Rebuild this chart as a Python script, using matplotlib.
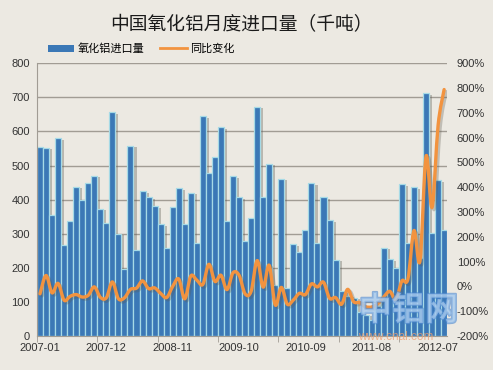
import numpy as np
import matplotlib
matplotlib.use('Agg')
import matplotlib.pyplot as plt
import matplotlib.patheffects as pe
from matplotlib.path import Path
from matplotlib.patches import PathPatch, Patch
from matplotlib.lines import Line2D

plt.rcParams['font.family'] = ['Liberation Sans', 'Noto Sans CJK SC', 'DejaVu Sans']

# monthly alumina imports (kt), 2007-01 .. 2012-08
imports = [553, 552, 354, 581, 266, 338, 438, 400, 448, 470, 373, 330,
           657, 300, 197, 558, 251, 424, 408, 380, 327, 258, 378, 434,
           327, 420, 273, 645, 478, 524, 613, 336, 468, 408, 278, 346,
           673, 409, 505, 149, 461, 140, 270, 245, 310, 449, 272, 408,
           340, 224, 132, 118, 112, 70, 62, 48, 88, 259, 225, 199,
           445, 274, 437, 230, 713, 302, 458, 312]

# year-on-year change (%)
yoy = [-30, 44, -26, 12, -56, -40, -33, -43, -36, -2, -44, -46,
       18, -50, -46, -12, -7, 22, -9, -6, -28, -45, 0, 30,
       -50, 42, 25, 8, 89, 20, 45, -13, 55, 45, -30, -20,
       104, -3, 85, -75, -4, -72, -55, -28, -33, 10, -2, 17,
       -48, -45, -72, -12, -62, -65, -82, -83, -70, -42, -20, -53,
       22, 30, 225, 103, 525, 319, 650, 794]

tick_pos = [0, 11, 22, 33, 44, 55, 66]
tick_labels = ['2007-01', '2007-12', '2008-11', '2009-10', '2010-09', '2011-08', '2012-07']

title = '中国氧化铝月度进口量（千吨）'
bar_name = '氧化铝进口量'
line_name = '同比变化'

bg = '#ECE9E2'
blue = '#3B78B6'
edge = '#A6DAE6'
orange = '#F2933F'
grid_c = '#A19C94'
txt_c = '#333333'

fig = plt.figure(figsize=(4.93, 3.70), dpi=100, facecolor=bg)
ax = fig.add_axes([0.075, 0.092, 0.832, 0.737])
ax.set_facecolor(bg)

x = np.arange(len(imports))
ax.bar(x, imports, width=1.0, color=blue, edgecolor=edge, linewidth=0.9, zorder=2,
       path_effects=[pe.SimplePatchShadow(offset=(2.2, -1.2), shadow_rgbFace='#5c5a50', alpha=0.35),
                     pe.Normal()])

ax.set_xlim(-0.5, len(imports) - 0.5)
ax.set_ylim(0, 800)
ax.set_yticks(range(0, 801, 100))
ax.yaxis.grid(True, color=grid_c, linewidth=1.0, zorder=0)
ax.set_axisbelow(True)
ax.set_xticks(tick_pos)
ax.set_xticklabels(tick_labels)
ax.set_xticks(np.arange(-0.5, len(imports), 10), minor=True)
ax.tick_params(axis='x', which='major', length=0, pad=5, labelsize=8, colors=txt_c)
ax.tick_params(axis='x', which='minor', length=4, color=grid_c)
ax.tick_params(axis='y', length=0, pad=5, labelsize=8, colors=txt_c)
for s in ['top', 'right']:
    ax.spines[s].set_visible(False)
ax.spines['left'].set_color(grid_c)
ax.spines['bottom'].set_color(grid_c)

ax2 = ax.twinx()
ax2.set_ylim(-200, 900)
ax2.set_yticks(range(-200, 901, 100))
ax2.set_yticklabels([f'{v}%' for v in range(-200, 901, 100)])
ax2.tick_params(axis='y', length=0, pad=7, labelsize=8, colors=txt_c)
for s in ax2.spines.values():
    s.set_visible(False)

# smoothed line (Catmull-Rom through the points, as Excel does)
pts = np.column_stack([x, yoy]).astype(float)
ext = np.vstack([pts[0], pts, pts[-1]])
verts = [pts[0]]
codes = [Path.MOVETO]
for i in range(1, len(ext) - 2):
    p0, p1, p2, p3 = ext[i - 1], ext[i], ext[i + 1], ext[i + 2]
    verts += [p1 + (p2 - p0) / 6, p2 - (p3 - p1) / 6, p2]
    codes += [Path.CURVE4] * 3
line = PathPatch(Path(verts, codes), fill=False, edgecolor=orange, linewidth=2.4,
                 capstyle='round', joinstyle='round', zorder=3,
                 path_effects=[pe.SimpleLineShadow(offset=(1.5, -1.5), shadow_color='#5c5a50', alpha=0.3),
                               pe.Normal()])
ax2.add_patch(line)

fig.text(0.49, 0.932, title, ha='center', va='center', fontsize=13.5, color='#1a1a1a',
         family=['Noto Sans CJK SC', 'DejaVu Sans'])

handles = [Patch(facecolor=blue, edgecolor='none'),
           Line2D([0], [0], color=orange, linewidth=2)]
fig.legend(handles, [bar_name, line_name], loc='center left', bbox_to_anchor=(0.097, 0.868),
           ncol=2, frameon=False, handlelength=2.4, handleheight=0.6,
           handletextpad=0.3, columnspacing=1.4, borderaxespad=0, borderpad=0,
           prop={'family': ['Noto Sans CJK SC', 'DejaVu Sans'], 'size': 8})

# watermark
fig.text(0.727, 0.16, '中铝网', ha='left', va='center', fontsize=24, fontweight='bold',
         color='#A9CBEE', alpha=0.6, family=['Noto Sans CJK SC', 'DejaVu Sans'],
         path_effects=[pe.withStroke(linewidth=1.5, foreground='#4A86CF')])
fig.text(0.727, 0.088, 'www.cnal.com', ha='left', va='center', fontsize=8.5,
         color='#F0A070', alpha=0.75)

fig.savefig('out.png', dpi=100, facecolor=bg)
